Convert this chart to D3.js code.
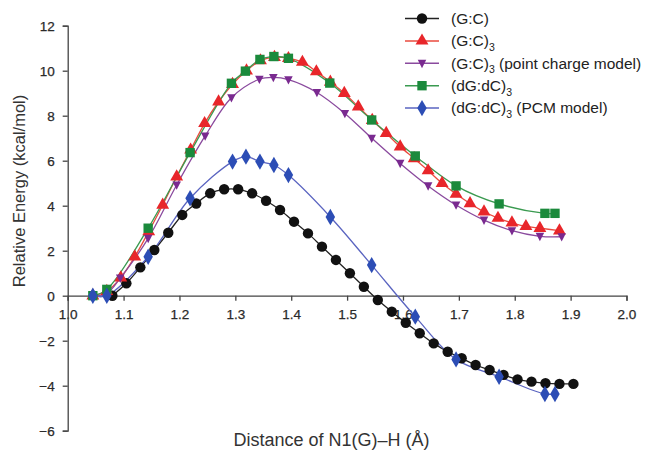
<!DOCTYPE html>
<html><head><meta charset="utf-8">
<script src="https://cdn.jsdelivr.net/npm/d3@7"></script>
<style>body{margin:0;background:#fff}svg{display:block}</style>
</head><body><svg id="c" width="648" height="453"></svg>
<script>
// ---- data ----
const xTicks = [1.0,1.1,1.2,1.3,1.4,1.5,1.6,1.7,1.8,1.9,2.0];
const yTicks = [-6,-4,-2,0,2,4,6,8,10,12];

const gcX = [1.08,1.105,1.13,1.155,1.18,1.205,1.23,1.255,1.28,1.305,1.33,1.355,1.38,1.405,1.43,1.455,1.48,1.505,1.53,1.555,1.58,1.605,1.63,1.655,1.68,1.705,1.73,1.755,1.78,1.805,1.83,1.855,1.88,1.905];
const gcY = [0,0.55,1.26,2.03,2.8,3.59,4.1,4.55,4.73,4.73,4.55,4.22,3.81,3.29,2.77,2.18,1.59,1.0,0.4,-0.19,-0.71,-1.2,-1.67,-2.12,-2.49,-2.78,-3.08,-3.3,-3.52,-3.72,-3.82,-3.89,-3.92,-3.92];

const gc3X = [1.045,1.07,1.095,1.12,1.145,1.17,1.195,1.22,1.245,1.27,1.295,1.32,1.345,1.37,1.395,1.42,1.445,1.47,1.495,1.52,1.545,1.57,1.595,1.62,1.645,1.67,1.695,1.72,1.745,1.77,1.795,1.82,1.845,1.88];
const gc3Y = [0,0.2,0.8,1.73,2.85,4.03,5.29,6.48,7.66,8.62,9.4,10.0,10.45,10.6,10.55,10.38,9.96,9.5,9.0,8.4,7.8,7.22,6.62,6.1,5.56,5.0,4.52,4.1,3.73,3.45,3.24,3.08,3.0,2.89];

const pcX = [1.045,1.07,1.094,1.144,1.195,1.246,1.293,1.343,1.368,1.395,1.446,1.496,1.544,1.595,1.645,1.695,1.745,1.795,1.845,1.884];
const pcY = [0,0.1,0.78,2.55,4.92,7.1,8.8,9.62,9.7,9.6,9.03,8.1,7.0,5.88,4.88,4.03,3.36,2.89,2.64,2.62];

const dgX = [1.045,1.07,1.144,1.219,1.293,1.318,1.344,1.369,1.395,1.469,1.544,1.622,1.695,1.772,1.854,1.872];
const dgY = [0,0.28,3.0,6.36,9.44,9.98,10.5,10.63,10.55,9.45,7.81,6.21,4.88,4.08,3.66,3.66];

const pcmX = [1.045,1.07,1.144,1.219,1.295,1.319,1.344,1.369,1.395,1.47,1.544,1.622,1.695,1.772,1.854,1.872];
const pcmY = [0,0,1.73,4.33,5.96,6.18,5.96,5.81,5.36,3.5,1.36,-0.93,-2.83,-3.6,-4.37,-4.37];

const seriesNames = ["(G:C)","(G:C)3","(G:C)3 (point charge model)","(dG:dC)3","(dG:dC)3 (PCM model)"];

// ---- drawing ----
const series = [
  {name:seriesNames[0], main:"(G:C)", sub:"", rest:"", xs:gcX, ys:gcY, color:"#111", line:"#222", sym:d3.symbolCircle, size:85},
  {name:seriesNames[1], main:"(G:C)", sub:"3", rest:"", xs:gc3X, ys:gc3Y, color:"#e8262a", line:"#ea4a3e", sym:d3.symbolTriangle, size:72},
  {name:seriesNames[2], main:"(G:C)", sub:"3", rest:" (point charge model)", xs:pcX, ys:pcY, color:"#7a2a90", line:"#8a4a9e", sym:"tridown", size:72},
  {name:seriesNames[3], main:"(dG:dC)", sub:"3", rest:"", xs:dgX, ys:dgY, color:"#1b8a3c", line:"#3a9a50", sym:d3.symbolSquare, size:88},
  {name:seriesNames[4], main:"(dG:dC)", sub:"3", rest:" (PCM model)", xs:pcmX, ys:pcmY, color:"#2c4db5", line:"#5a64c0", sym:d3.symbolDiamond, size:78}
];

const svg = d3.select("#c");
const x = d3.scaleLinear().domain([1.0,2.0]).range([67.7,626.5]);
const y = d3.scaleLinear().domain([-6,12]).range([430.7,25.7]);
const font = "'Liberation Sans', Arial, sans-serif";

const xa = svg.append("g").attr("transform",`translate(0,${y(0)})`)
  .call(d3.axisBottom(x).tickValues(xTicks).tickFormat(d3.format(".1f")).tickSize(5).tickPadding(9));
const ya = svg.append("g").attr("transform",`translate(${x(1.0)},0)`)
  .call(d3.axisLeft(y).tickValues(yTicks).tickFormat(d3.format("d")).tickSize(5).tickPadding(8));
[xa,ya].forEach(a=>{
  a.selectAll("path,line").attr("stroke","#444").attr("stroke-width",1.3);
  a.selectAll("text").attr("font-family",font).attr("font-size",13.5).attr("fill","#2a2a2a")
    .attr("stroke","#2a2a2a").attr("stroke-width",0.25);
});

const triDown = {draw(ctx,size){const r=Math.sqrt(size/(3*Math.sqrt(3)/4)); const h=r*Math.sqrt(3)/2;
  ctx.moveTo(-r/2*1.15,-h*0.55); ctx.lineTo(r/2*1.15,-h*0.55); ctx.lineTo(0,h*0.75); ctx.closePath();}};
function symType(s){return s==="tridown"?triDown:s;}

const lineGen = d3.line().x(d=>x(d[0])).y(d=>y(d[1])).curve(d3.curveCatmullRom.alpha(0.5));
const plot = svg.append("g");
series.forEach(s=>{
  const pts = s.xs.map((v,i)=>[v,s.ys[i]]);
  plot.append("path").attr("d",lineGen(pts)).attr("fill","none").attr("stroke",s.line).attr("stroke-width",1.3);
});
series.forEach(s=>{
  const pts = s.xs.map((v,i)=>[v,s.ys[i]]);
  plot.selectAll(null).data(pts).join("path")
    .attr("transform",d=>`translate(${x(d[0])},${y(d[1])})`)
    .attr("d",d3.symbol().type(symType(s.sym)).size(s.size))
    .attr("fill",s.color);
});

// legend
const lg = svg.append("g");
series.forEach((s,i)=>{
  const yy = 18.5 + i*22.4;
  lg.append("line").attr("x1",405).attr("x2",439).attr("y1",yy).attr("y2",yy).attr("stroke",s.line).attr("stroke-width",1.5);
  lg.append("path").attr("transform",`translate(422,${yy})`).attr("d",d3.symbol().type(symType(s.sym)).size(s.size)).attr("fill",s.color);
  const t = lg.append("text").attr("x",451).attr("y",yy+5.3).attr("font-family",font).attr("font-size",15.5).attr("fill","#222");
  t.append("tspan").text(s.main);
  if(s.sub){ t.append("tspan").attr("dy",4.5).attr("font-size",10.5).text(s.sub);
    if(s.rest) t.append("tspan").attr("dy",-4.5).text(s.rest); }
});

svg.append("text").attr("transform","translate(25,191) rotate(-90)").attr("text-anchor","middle")
  .attr("font-family",font).attr("font-size",16.5).attr("fill","#333").text("Relative Energy (kcal/mol)");
svg.append("text").attr("x",331.5).attr("y",446).attr("text-anchor","middle")
  .attr("font-family",font).attr("font-size",18).attr("fill","#333").text("Distance of N1(G)–H  (Å)");
</script></body></html>
